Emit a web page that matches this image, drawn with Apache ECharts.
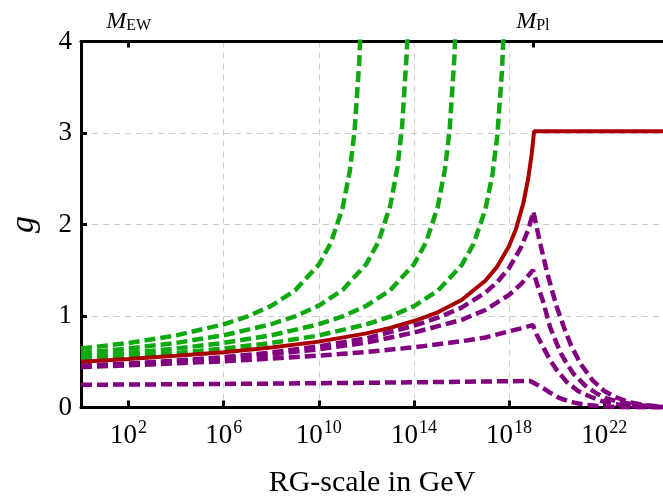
<!DOCTYPE html>
<html>
<head>
<meta charset="utf-8">
<script src="https://cdn.jsdelivr.net/npm/echarts@6/dist/echarts.min.js"></script>
<style>html,body{margin:0;padding:0;background:#fff}#c{width:663px;height:498px}</style>
</head>
<body>
<div id="c"></div>
<script>
// x values are log10(RG-scale / GeV)
const bottomTickExp = [2, 6, 10, 14, 18, 22];
const topTickExp = [2, 19];
const topTickLabels = ['{m|M}{s|EW}', '{m|M}{s|Pl}'];
const yTicks = [0, 1, 2, 3, 4];

const redX = [0, 2, 4, 6, 8, 10, 12, 13, 14, 15, 16, 17, 17.5, 18, 18.3, 18.6, 18.8, 18.95, 19.05, 24.47];
const redY = [0.50, 0.53, 0.565, 0.605, 0.655, 0.72, 0.81, 0.87, 0.945, 1.04, 1.175, 1.385, 1.54, 1.765, 1.96, 2.235, 2.5, 2.77, 3.02, 3.02];

const green1X = [0, 2, 4, 6, 7, 8, 9, 10, 10.5, 11, 11.3, 11.5, 11.7, 11.8];
const green1Y = [0.644, 0.705, 0.788, 0.909, 0.995, 1.111, 1.28, 1.562, 1.796, 2.182, 2.582, 3.015, 3.78, 4.45];
const green2X = [0, 2, 4, 6, 8, 9, 10, 11, 12, 12.5, 13, 13.3, 13.5, 13.7, 13.8];
const green2Y = [0.597, 0.645, 0.706, 0.789, 0.911, 0.997, 1.114, 1.285, 1.569, 1.808, 2.203, 2.617, 3.071, 3.89, 4.6];
const green3X = [0, 2, 4, 6, 8, 10, 11, 12, 13, 14, 14.5, 15, 15.3, 15.5, 15.7, 15.8];
const green3Y = [0.558, 0.597, 0.644, 0.706, 0.789, 0.91, 0.996, 1.112, 1.282, 1.566, 1.802, 2.193, 2.6, 3.04, 3.83, 4.55];
const green4X = [0, 2, 4, 6, 8, 10, 12, 13, 14, 15, 16, 16.5, 17, 17.3, 17.5, 17.7, 17.8];
const green4Y = [0.526, 0.558, 0.596, 0.644, 0.705, 0.787, 0.908, 0.993, 1.108, 1.276, 1.554, 1.785, 2.162, 2.548, 2.962, 3.676, 4.3];

const purple1X = [0, 2, 4, 6, 8, 10, 12, 14, 15, 16, 17, 17.5, 18, 18.5, 18.8, 19.02, 19.3, 19.6, 20.0, 20.3, 20.6, 21.0, 21.5, 22.0, 22.5, 23.1, 23.7, 24.47];
const purple1Y = [0.455, 0.48, 0.512, 0.551, 0.601, 0.668, 0.756, 0.894, 0.981, 1.091, 1.255, 1.37, 1.525, 1.75, 1.94, 2.14, 1.80, 1.47, 1.10, 0.88, 0.68, 0.48, 0.30, 0.18, 0.11, 0.055, 0.025, 0.008];
const purple2X = [0, 2, 4, 6, 8, 10, 12, 14, 16, 17, 18, 18.5, 19.0, 19.2, 19.44, 19.72, 20.0, 20.2, 20.45, 20.7, 21.2, 21.7, 22.1, 22.6, 23.2, 23.8, 24.47];
const purple2Y = [0.45, 0.474, 0.502, 0.538, 0.581, 0.636, 0.709, 0.819, 0.958, 1.066, 1.231, 1.348, 1.50, 1.33, 1.15, 0.88, 0.70, 0.58, 0.47, 0.37, 0.24, 0.15, 0.10, 0.06, 0.035, 0.015, 0.006];
const purple3X = [0, 2, 4, 6, 8, 10, 12, 14, 16, 17, 18, 18.5, 19.0, 19.15, 19.35, 19.72, 20.0, 20.42, 20.9, 21.4, 21.9, 22.4, 23.0, 23.7, 24.47];
const purple3Y = [0.442, 0.461, 0.482, 0.506, 0.534, 0.567, 0.607, 0.658, 0.724, 0.765, 0.833, 0.865, 0.90, 0.80, 0.70, 0.52, 0.41, 0.28, 0.18, 0.12, 0.07, 0.04, 0.02, 0.008, 0.003];
const purple4X = [0, 4, 8, 12, 16, 18.88, 19.1, 19.35, 19.7, 20.1, 20.6, 21.2, 22.0, 23.0, 24.47];
const purple4Y = [0.248, 0.254, 0.261, 0.27, 0.281, 0.29, 0.26, 0.225, 0.165, 0.105, 0.06, 0.03, 0.01, 0.003, 0.001];

const X_MIN = 0, X_MAX = 24.47;
const SERIF = 'Liberation Serif';
const GREEN = '#10a810', PURPLE = '#800080', RED = '#a80000';

function zip(xs, ys) { return xs.map((x, i) => [x, ys[i]]); }

const dashed = (color) => ({ color: color, width: 4.5, type: [11, 5] });

const chart = echarts.init(document.getElementById('c'), null, { renderer: 'canvas' });

const series = [];
[[purple4X, purple4Y], [purple3X, purple3Y], [purple2X, purple2Y], [purple1X, purple1Y]].forEach(([xs, ys]) => {
  series.push({ type: 'line', data: zip(xs, ys), showSymbol: false, symbol: 'none', lineStyle: dashed(PURPLE), clip: true, silent: true, animation: false });
});
[[green1X, green1Y], [green2X, green2Y], [green3X, green3Y], [green4X, green4Y]].forEach(([xs, ys]) => {
  series.push({ type: 'line', data: zip(xs, ys), showSymbol: false, symbol: 'none', lineStyle: dashed(GREEN), clip: true, silent: true, animation: false });
});
series.push({ type: 'line', data: zip(redX, redY), showSymbol: false, symbol: 'none', lineStyle: { color: RED, width: 4, type: 'solid' }, clip: true, silent: true, animation: false });

chart.setOption({
  animation: false,
  backgroundColor: '#fff',
  grid: { left: 81, right: 0, top: 41.5, bottom: 90.5, containLabel: false, outerBoundsMode: 'none' },
  xAxis: [
    {
      type: 'value', min: X_MIN, max: X_MAX, interval: 5, position: 'bottom',
      axisLine: { show: true, onZero: false, lineStyle: { color: '#000', width: 3 } },
      axisTick: { show: true, inside: true, length: 7, customValues: bottomTickExp, lineStyle: { color: '#000', width: 3 } },
      axisLabel: {
        show: true, customValues: bottomTickExp, margin: 12,
        formatter: (v) => '{b|10}{s|' + Math.round(v) + '}',
        rich: {
          b: { fontFamily: SERIF, fontSize: 27, color: '#000', lineHeight: 30, verticalAlign: 'bottom' },
          s: { fontFamily: SERIF, fontSize: 18, color: '#000', lineHeight: 30, verticalAlign: 'top', padding: [0, 0, 0, 1] }
        }
      },
      splitLine: { show: true, showMinLine: false, showMaxLine: false, lineStyle: { color: '#cccccc', width: 1, type: [6, 5] } },
      name: 'RG-scale in GeV', nameLocation: 'middle', nameGap: 61,
      nameTextStyle: { fontFamily: SERIF, fontSize: 30, color: '#000' }
    },
    {
      type: 'value', min: X_MIN, max: X_MAX, interval: 5, position: 'top',
      axisLine: { show: true, onZero: false, lineStyle: { color: '#000', width: 3 } },
      axisTick: { show: true, inside: true, length: 6, customValues: topTickExp, lineStyle: { color: '#000', width: 3 } },
      axisLabel: {
        show: true, customValues: topTickExp, margin: 8,
        formatter: (v) => topTickLabels[topTickExp.indexOf(Math.round(v))] || '',
        rich: {
          m: { fontFamily: SERIF, fontStyle: 'italic', fontSize: 24, color: '#000', lineHeight: 26, verticalAlign: 'bottom' },
          s: { fontFamily: SERIF, fontSize: 16, color: '#000', lineHeight: 20, verticalAlign: 'bottom' }
        }
      },
      splitLine: { show: false }
    }
  ],
  yAxis: {
    type: 'value', min: yTicks[0], max: yTicks[yTicks.length - 1], interval: 1,
    axisLine: { show: true, onZero: false, lineStyle: { color: '#000', width: 3 } },
    axisTick: { show: true, inside: true, length: 6, lineStyle: { color: '#000', width: 3 } },
    axisLabel: { fontFamily: SERIF, fontSize: 27, color: '#000', margin: 9 },
    splitLine: { show: true, showMinLine: false, showMaxLine: false, lineStyle: { color: '#cccccc', width: 1, type: [6, 5] } },
    name: 'g', nameLocation: 'middle', nameGap: 40, nameRotate: 90,
    nameTextStyle: { fontFamily: SERIF, fontStyle: 'italic', fontSize: 34, color: '#000' }
  },
  series: series
});
</script>
</body>
</html>
